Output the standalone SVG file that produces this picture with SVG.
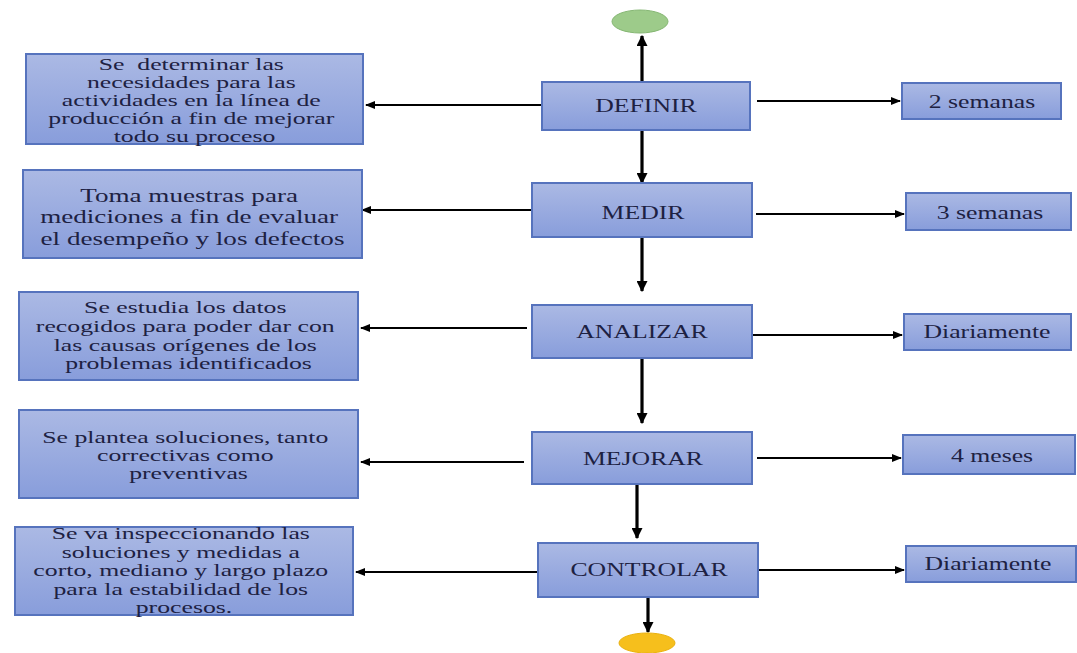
<svg xmlns="http://www.w3.org/2000/svg" width="1077" height="653" viewBox="0 0 1077 653">
<defs>
<linearGradient id="bg" x1="0" y1="0" x2="0" y2="1">
<stop offset="0" stop-color="#abb9e4"/>
<stop offset="1" stop-color="#889ddb"/>
</linearGradient>
<marker id="ah" viewBox="0 0 10 8" refX="9" refY="4" markerWidth="10" markerHeight="8" markerUnits="userSpaceOnUse" orient="auto">
<path d="M0,0 L10,4 L0,8 Z" fill="#000"/>
</marker>
<marker id="ahv" viewBox="0 0 10 10" refX="9" refY="5" markerWidth="11" markerHeight="11" markerUnits="userSpaceOnUse" orient="auto">
<path d="M0,0 L10,5 L0,10 Z" fill="#000"/>
</marker>
</defs>
<style>
.box{fill:url(#bg);stroke:#5673bd;stroke-width:2}
.t{font-family:"Liberation Serif","Times New Roman",serif;font-size:18px;fill:#1d2142;text-anchor:middle}
.m{font-size:16px}
.t2{font-size:18.5px}
.h{stroke:#000;stroke-width:2;fill:none;marker-end:url(#ah)}
.v{stroke:#000;stroke-width:3.2;fill:none;marker-end:url(#ahv)}
</style>
<rect width="1077" height="653" fill="#fff"/>

<g id="connectors">
<line class="v" x1="642" y1="82" x2="642" y2="36"/>
<line class="v" x1="642" y1="130" x2="642" y2="183"/>
<line class="v" x1="642" y1="237" x2="642" y2="291"/>
<line class="v" x1="642" y1="358" x2="642" y2="423"/>
<line class="v" x1="637" y1="484" x2="637" y2="538"/>
<line class="v" x1="648" y1="597" x2="648" y2="632"/>
<line class="h" x1="541" y1="105" x2="366" y2="105"/>
<line class="h" x1="532" y1="210" x2="362" y2="210"/>
<line class="h" x1="527" y1="328" x2="361" y2="328"/>
<line class="h" x1="524" y1="462" x2="361" y2="462"/>
<line class="h" x1="538" y1="572" x2="356" y2="572"/>
<line class="h" x1="757" y1="101" x2="900" y2="101"/>
<line class="h" x1="756" y1="214" x2="904" y2="214"/>
<line class="h" x1="752" y1="335" x2="902" y2="335"/>
<line class="h" x1="757" y1="458" x2="901" y2="458"/>
<line class="h" x1="758" y1="570" x2="904" y2="570"/>
</g>

<g id="start">
<ellipse cx="640" cy="21.5" rx="28" ry="11.5" fill="#9dcb8a" stroke="#86b774" stroke-width="1"/>
</g>
<g id="end">
<ellipse cx="647" cy="643" rx="28" ry="10" fill="#f6bf1c" stroke="#eab10f" stroke-width="1"/>
</g>

<g id="definir">
<rect class="box" x="542" y="82" width="208" height="48"/>
<text class="t" transform="translate(646,0) scale(1.43,1)" x="0" y="112">DEFINIR</text>
</g>
<g id="medir">
<rect class="box" x="532" y="183" width="220" height="54"/>
<text class="t" transform="translate(643,0) scale(1.43,1)" x="0" y="219">MEDIR</text>
</g>
<g id="analizar">
<rect class="box" x="532" y="305" width="220" height="53"/>
<text class="t" transform="translate(642,0) scale(1.43,1)" x="0" y="338">ANALIZAR</text>
</g>
<g id="mejorar">
<rect class="box" x="532" y="432" width="220" height="52"/>
<text class="t" transform="translate(643,0) scale(1.43,1)" x="0" y="465">MEJORAR</text>
</g>
<g id="controlar">
<rect class="box" x="538" y="543" width="220" height="54"/>
<text class="t" transform="translate(649,0) scale(1.43,1)" x="0" y="576">CONTROLAR</text>
</g>

<g id="desc-definir">
<rect class="box" x="26" y="54" width="337" height="90"/>
<text class="t m" transform="translate(194.5,0) scale(1.61,1)" y="70">
<tspan x="0">Se&#160; determinar las</tspan>
<tspan x="0" dy="18">necesidades para las</tspan>
<tspan x="0" dy="18">actividades en la línea de</tspan>
<tspan x="0" dy="18">producción a fin de mejorar</tspan>
<tspan x="0" dy="18">todo su proceso</tspan>
</text>
</g>
<g id="desc-medir">
<rect class="box" x="23" y="170" width="339" height="88"/>
<text class="t t2" transform="translate(192.5,0) scale(1.465,1)" y="202">
<tspan x="0">Toma muestras para</tspan>
<tspan x="0" dy="21.5">mediciones a fin de evaluar</tspan>
<tspan x="0" dy="21.5">el desempeño y los defectos</tspan>
</text>
</g>
<g id="desc-analizar">
<rect class="box" x="19" y="292" width="339" height="88"/>
<text class="t m" transform="translate(188.5,0) scale(1.61,1)" y="313">
<tspan x="0">Se estudia los datos</tspan>
<tspan x="0" dy="18.8">recogidos para poder dar con</tspan>
<tspan x="0" dy="18.8">las causas orígenes de los</tspan>
<tspan x="0" dy="18.8">problemas identificados</tspan>
</text>
</g>
<g id="desc-mejorar">
<rect class="box" x="19" y="410" width="339" height="88"/>
<text class="t m" transform="translate(188.5,0) scale(1.61,1)" y="443">
<tspan x="0">Se plantea soluciones, tanto</tspan>
<tspan x="0" dy="18">correctivas como</tspan>
<tspan x="0" dy="18.5">preventivas</tspan>
</text>
</g>
<g id="desc-controlar">
<rect class="box" x="15" y="527" width="338" height="88"/>
<text class="t m" transform="translate(184,0) scale(1.61,1)" y="539">
<tspan x="0">Se va inspeccionando las</tspan>
<tspan x="0" dy="18.6">soluciones y medidas a</tspan>
<tspan x="0" dy="18.6">corto, mediano y largo plazo</tspan>
<tspan x="0" dy="18.6">para la estabilidad de los</tspan>
<tspan x="0" dy="18.6">procesos.</tspan>
</text>
</g>

<g id="time-definir">
<rect class="box" x="902" y="83" width="159" height="36"/>
<text class="t" transform="translate(982,0) scale(1.43,1)" x="0" y="108">2 semanas</text>
</g>
<g id="time-medir">
<rect class="box" x="906" y="193" width="165" height="37"/>
<text class="t" transform="translate(990,0) scale(1.43,1)" x="0" y="219">3 semanas</text>
</g>
<g id="time-analizar">
<rect class="box" x="904" y="314" width="167" height="36"/>
<text class="t" transform="translate(987,0) scale(1.43,1)" x="0" y="338">Diariamente</text>
</g>
<g id="time-mejorar">
<rect class="box" x="903" y="435" width="172" height="39"/>
<text class="t" transform="translate(992,0) scale(1.43,1)" x="0" y="462">4 meses</text>
</g>
<g id="time-controlar">
<rect class="box" x="906" y="546" width="170" height="36"/>
<text class="t" transform="translate(988,0) scale(1.43,1)" x="0" y="570">Diariamente</text>
</g>
</svg>
